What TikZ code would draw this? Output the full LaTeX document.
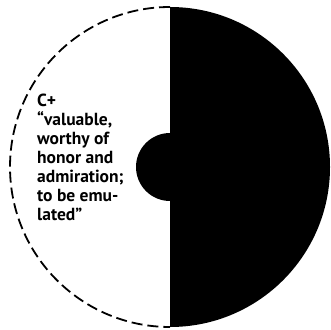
\documentclass[tikz,border=0pt]{standalone}
\usepackage{fontspec}
\setmainfont{PT Sans}
\usetikzlibrary{positioning}

\begin{document}
\begin{tikzpicture}[
    x=1pt, y=1pt,
    rim/.style={dash pattern=on 11pt off 5pt, line width=1.8pt},
    solid half/.style={fill=black},
    label/.style={
      font=\fontsize{17.5}{19}\selectfont\bfseries,
      align=left, inner sep=0pt, anchor=north west,
    },
  ]
  \useasboundingbox (0,0) rectangle (331,329);

  % disc, white half with dashed rim
  \coordinate (centre) at (169,162);
  \draw[rim] (170,322) arc[start angle=90, end angle=270, radius=160];

  % black half and the bulge into the white side
  \fill[solid half] (170,322) arc[start angle=90, end angle=-90, radius=160] -- cycle;
  \fill[solid half] (170,162) circle[radius=34];

  \node[label] (grade) at (37,235)
    {C+\\
     ``valuable,\\
     worthy of\\
     honor and\\
     admiration;\\
     to be emu-\\
     lated''};
\end{tikzpicture}
\end{document}
